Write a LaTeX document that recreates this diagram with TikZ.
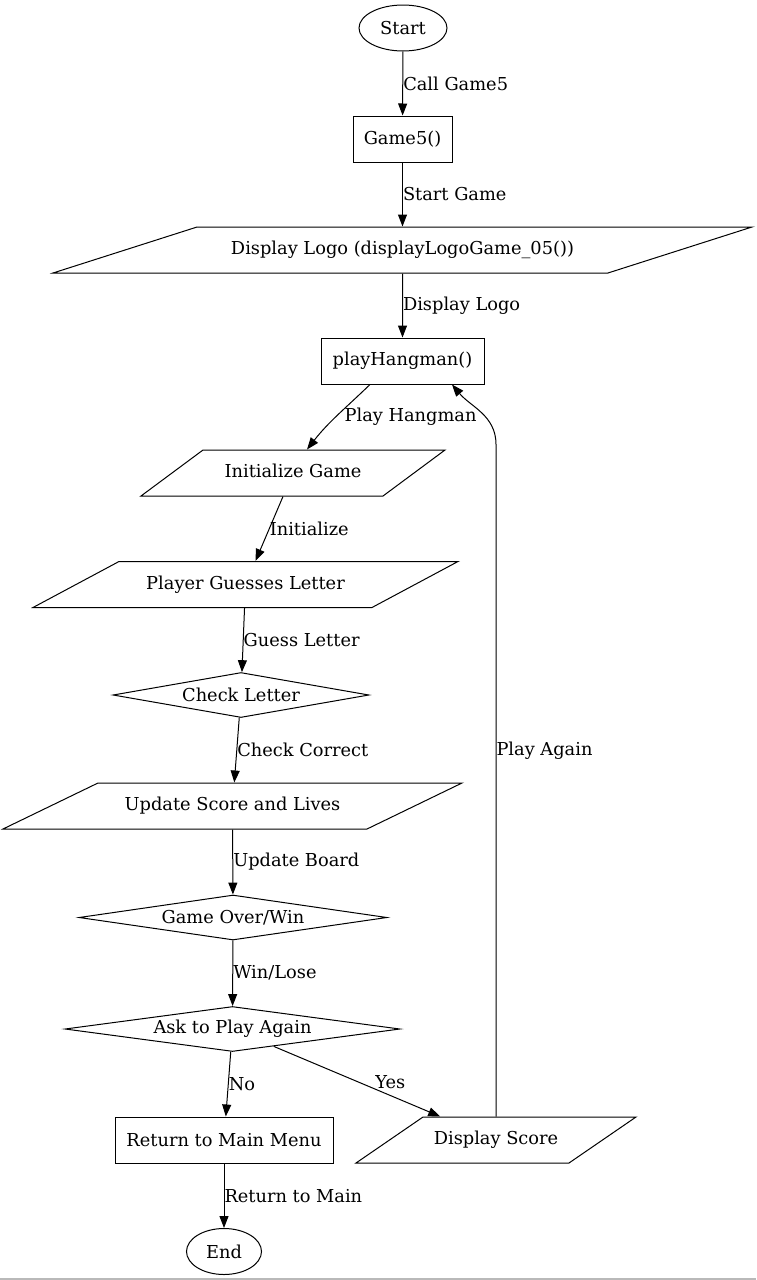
\documentclass[tikz,border=0pt]{standalone}
\usepackage{fontspec}
\setmainfont{DejaVu Serif}
\usetikzlibrary{arrows.meta, positioning, shapes.geometric}

\begin{document}
\begin{tikzpicture}[x=1pt, y=1pt, font=\fontsize{17.8}{21}\selectfont,
    box/.style={draw, line width=1pt, minimum height=46pt, inner sep=0pt},
    term/.style={draw, ellipse, line width=1pt, minimum height=46pt, inner sep=0pt},
    io/.style 2 args={draw, line width=1pt, trapezium, trapezium left angle=#1, trapezium right angle=#2, trapezium stretches body, text height=13pt, text depth=4pt, inner ysep=14.5pt, inner xsep=0pt},
    choice/.style={draw, diamond, aspect=6, line width=1pt, minimum height=45pt, inner sep=0pt},
    arr/.style={-{Triangle[length=12pt, width=9pt]}, line width=1pt},
    lbl/.style={anchor=west, inner sep=0pt}
]
    \useasboundingbox (0,0) rectangle (756,-1280);

    % Start and setup
    \node[term, minimum width=88pt] (start) at (403,-28) {Start};
    \node[box, minimum width=99pt] (game5) at (402.5,-139) {Game5()};
    \node[io={17.71}{162.29}, minimum width=699pt] (logo) at (402.5,-250) {Display Logo (displayLogoGame\_05())};
    \node[box, minimum width=163pt] (play) at (402.5,-361) {playHangman()};

    % Game loop
    \node[io={36.57}{143.43}, minimum width=304pt] (init) at (293,-473) {Initialize Game};
    \node[io={28.14}{151.86}, minimum width=425pt] (guess) at (245.5,-584.5) {Player Guesses Letter};
    \node[choice, minimum width=256pt] (check) at (241,-695) {Check Letter};
    \node[io={25.84}{154.16}, minimum width=459pt] (update) at (232.5,-806) {Update Score and Lives};
    \node[choice, minimum width=308pt] (over) at (233,-917.5) {Game Over/Win};
    \node[choice, minimum width=335pt] (again) at (232.5,-1029) {Ask to Play Again};

    % Exits
    \node[box, minimum width=218pt] (menu) at (224,-1140) {Return to Main Menu};
    \node[io={34.47}{145.53}, minimum width=280pt] (dscore) at (496,-1140) {Display Score};
    \node[term, minimum width=75pt] (end) at (224,-1251.5) {End};

    % Flow
    \draw[arr] (start) -- node[lbl] {Call Game5} (game5);
    \draw[arr] (game5) -- node[lbl] {Start Game} (logo);
    \draw[arr] (logo) -- node[lbl] {Display Logo} (play);
    \draw[arr] ([xshift=-32.5pt]play.south) to[out=-136, in=52] node[lbl, pos=0.45, xshift=4pt, yshift=-4pt] {Play Hangman} ([xshift=14pt]init.north);
    \draw[arr] (init) -- node[lbl] {Initialize} (guess);
    \draw[arr] (guess) -- node[lbl] {Guess Letter} (check);
    \draw[arr] (check) -- node[lbl] {Check Correct} (update);
    \draw[arr] (update) -- node[lbl] {Update Board} (over);
    \draw[arr] (over) -- node[lbl] {Win/Lose} (again);
    \draw[arr] (again) -- node[lbl] {No} (menu);
    \draw[arr] (again) -- node[pos=0.7, above=6pt, inner sep=0pt] {Yes} (dscore);
    \draw[arr] (dscore.north) -- node[lbl, pos=0.545] {Play Again} ++(0,672) to[out=90, in=-50] ([xshift=49.5pt]play.south);
    \draw[arr] (menu) -- node[lbl] {Return to Main} (end);

    % bottom edge
    \fill[gray!55] (0,-1277.5) rectangle (756,-1280);
\end{tikzpicture}
\end{document}
